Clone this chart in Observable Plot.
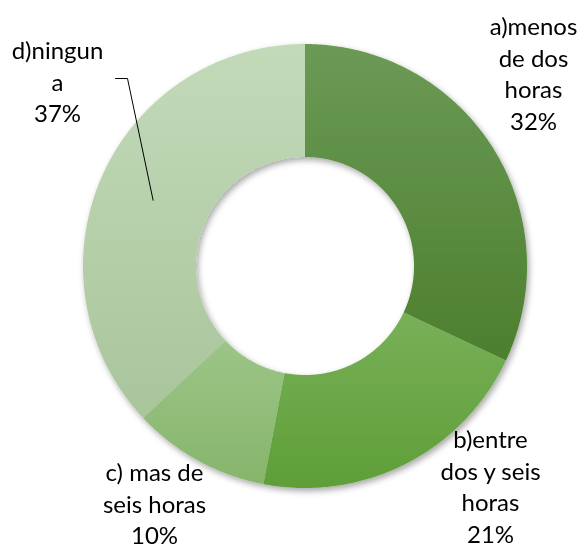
<!DOCTYPE html>
<html>
<head>
<meta charset="utf-8">
<script src="https://cdn.jsdelivr.net/npm/d3@7"></script>
<script src="https://cdn.jsdelivr.net/npm/@observablehq/plot@0.6"></script>
<style>
  html, body { margin: 0; padding: 0; background: #fff; }
  #chart { width: 582px; height: 549px; }
</style>
</head>
<body>
<div id="chart"></div>
<script>
// ---- data ----
const categories = ["a)menos\nde dos\nhoras", "b)entre\ndos y seis\nhoras", "c) mas de\nseis horas", "d)ningun\na"];
const values = [32, 21, 10, 37];
const gradTop = ["#6b9a56", "#78b058", "#9cc587", "#c3dab9"];
const gradBottom = ["#4d7f2e", "#5f9e38", "#86b56b", "#a9c59c"];
// label anchor points (pixel layout)
const labelX = [533, 490, 154, 57];
const labelY = [72, 485, 502, 80];

// ---- layout ----
const W = 582, H = 549;
const cx = 304.5, cy = 265.5, R = 222, r = 109;

const total = d3.sum(values);
let acc = 0;
const slices = values.map((v, i) => {
  const a0 = acc / total * 2 * Math.PI;
  acc += v;
  const a1 = acc / total * 2 * Math.PI;
  const pts = [];
  const n = Math.max(8, Math.ceil((a1 - a0) / (Math.PI / 360)));
  for (let k = 0; k <= n; k++) {
    const a = a0 + (a1 - a0) * k / n;
    pts.push({x: cx + R * Math.sin(a), y: cy - R * Math.cos(a), i});
  }
  for (let k = n; k >= 0; k--) {
    const a = a0 + (a1 - a0) * k / n;
    pts.push({x: cx + r * Math.sin(a), y: cy - r * Math.cos(a), i});
  }
  const am = (a0 + a1) / 2, rm = (R + r) / 2;
  return {pts, a0, a1, cxm: cx + rm * Math.sin(am), cym: cy - rm * Math.cos(am)};
});

const labels = categories.map((c, i) => ({x: labelX[i], y: labelY[i], text: c + "\n" + values[i] + "%"}));

// leader line for d)
const dSlice = slices[3];
const leader = [
  {x: 115, y: 78},
  {x: 127, y: 78},
  {x: dSlice.cxm, y: dSlice.cym}
];

const chart = Plot.plot({
  width: W,
  height: H,
  margin: 0,
  x: {domain: [0, W], range: [0, W], axis: null},
  y: {domain: [0, H], range: [0, H], axis: null},
  style: {fontFamily: "Lato, 'Open Sans', sans-serif", background: "#fff"},
  marks: [
    ...slices.map((s, i) => Plot.line(s.pts, {x: "x", y: "y", fill: `url(#grad${i})`, stroke: "none", curve: "linear"})),
    Plot.line(leader, {x: "x", y: "y", stroke: "#000", strokeWidth: 1}),
    Plot.text(labels, {x: "x", y: "y", text: "text", fontSize: 24, lineHeight: 1.31, fill: "#000", textAnchor: "middle"})
  ]
});

// gradients + shadow
const ns = "http://www.w3.org/2000/svg";
const defs = document.createElementNS(ns, "defs");
gradTop.forEach((c, i) => {
  const g = document.createElementNS(ns, "linearGradient");
  g.setAttribute("id", "grad" + i);
  g.setAttribute("x1", "0"); g.setAttribute("y1", "0");
  g.setAttribute("x2", "0"); g.setAttribute("y2", "1");
  const s0 = document.createElementNS(ns, "stop");
  s0.setAttribute("offset", "0"); s0.setAttribute("stop-color", c);
  const s1 = document.createElementNS(ns, "stop");
  s1.setAttribute("offset", "1"); s1.setAttribute("stop-color", gradBottom[i]);
  g.appendChild(s0); g.appendChild(s1);
  defs.appendChild(g);
});
const f = document.createElementNS(ns, "filter");
f.setAttribute("id", "shadow");
f.setAttribute("x", "-10%"); f.setAttribute("y", "-10%");
f.setAttribute("width", "120%"); f.setAttribute("height", "120%");
const ds = document.createElementNS(ns, "feDropShadow");
ds.setAttribute("dx", "2"); ds.setAttribute("dy", "3");
ds.setAttribute("stdDeviation", "3");
ds.setAttribute("flood-color", "#000");
ds.setAttribute("flood-opacity", "0.35");
f.appendChild(ds);
defs.appendChild(f);
chart.insertBefore(defs, chart.firstChild);

// wrap slice marks in a shadowed group
const lineGroups = Array.from(chart.querySelectorAll('g[aria-label="line"]')).slice(0, slices.length);
const wrap = document.createElementNS(ns, "g");
wrap.setAttribute("filter", "url(#shadow)");
lineGroups[0].parentNode.insertBefore(wrap, lineGroups[0]);
lineGroups.forEach(g => wrap.appendChild(g));

document.getElementById("chart").appendChild(chart);
</script>
</body>
</html>
